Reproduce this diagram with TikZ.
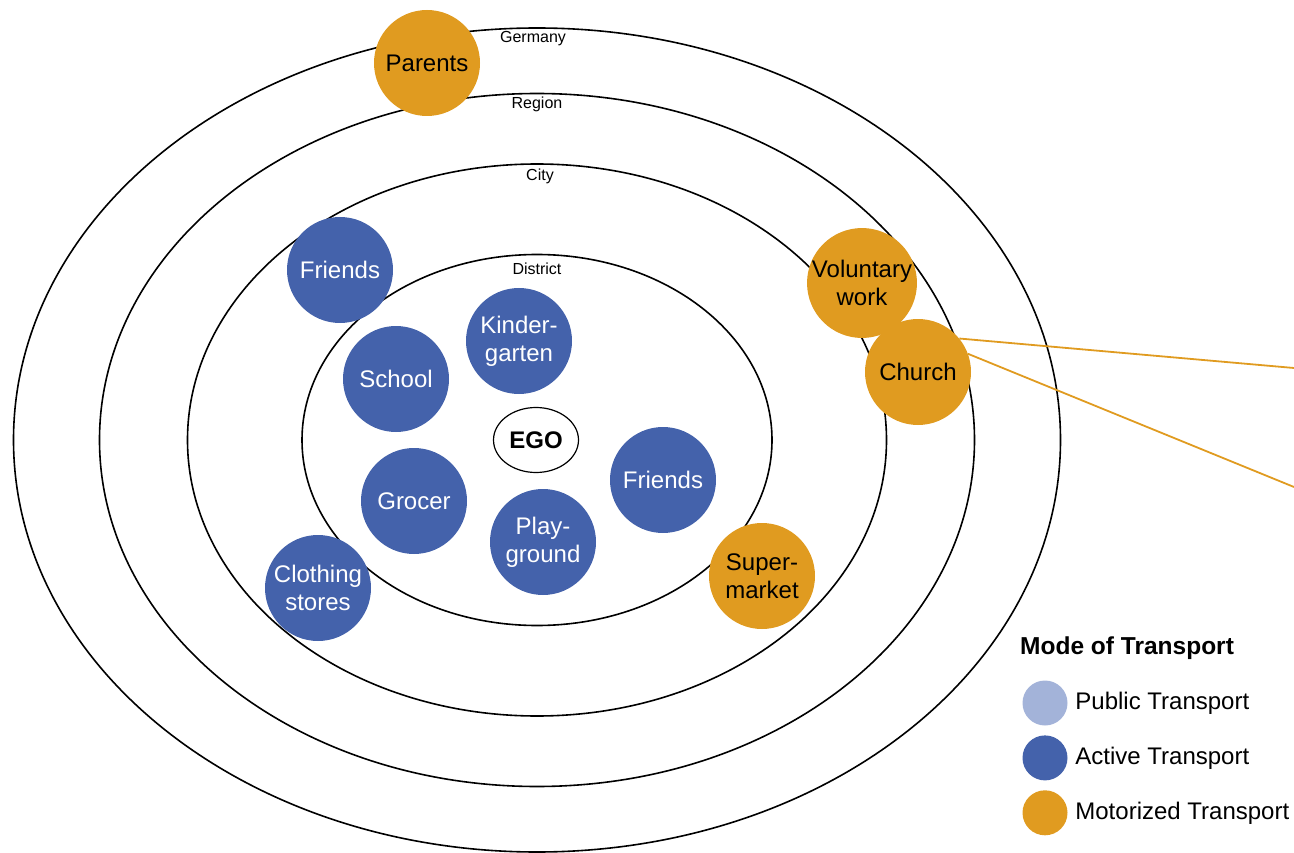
\documentclass[tikz,border=0pt]{standalone}
\usepackage{fontspec}
\setmainfont{Liberation Sans}
\usetikzlibrary{positioning}
\usetikzlibrary{shapes.geometric}
\definecolor{motorized}{HTML}{E09B20}
\definecolor{active}{HTML}{4462AB}
\definecolor{public}{HTML}{A3B3D9}
\tikzset{
    % The rings of distance round the ego
    ring/.style={draw, ellipse, line width=1.6pt, inner sep=0},
%
    % Small name printed just inside the top of each ring
    ring label/.style={anchor=north, inner sep=3pt,
        font=\fontsize{16}{19}\selectfont},
%
    % A place that is visited, as a filled disk
    place/.style={circle, minimum size=106, inner sep=0, align=center,
        font=\fontsize{24}{28}\selectfont},
    active place/.style={place, fill=active, text=white},
    motor place/.style={place, fill=motorized, text=black},
%
    % Thin line leading away from a place
    motor line/.style={draw=motorized, line width=1.8pt},
%
    % Legend entries
    legend dot/.style={circle, minimum size=45, inner sep=0},
    legend text/.style={anchor=west, inner sep=0,
        font=\fontsize{24}{28}\selectfont}}

\begin{document}
\begin{tikzpicture}[x=1pt, y=-1pt]
\useasboundingbox (0,0) rectangle (1294,853);

\node [ring, minimum width=1047, minimum height=824] (germany) at (537,440) {};
\node [ring, minimum width=875, minimum height=693] (region) at (537,440) {};
\node [ring, minimum width=699, minimum height=552] (city) at (537,440) {};
\node [ring, minimum width=470, minimum height=371] (district) at (537,440) {};

\node [ring label, xshift=-4pt, yshift=-1pt] at (germany.north) {Germany};
\node [ring label, yshift=-1pt] at (region.north) {Region};
\node [ring label, xshift=3pt, yshift=-3pt] at (city.north) {City};
\node [ring label, yshift=-6pt] at (district.north) {District};

\node [draw, ellipse, line width=1.2pt, fill=white, minimum width=85,
    minimum height=65, inner sep=0, font=\bfseries\fontsize{24}{28}\selectfont]
    (ego) at (536,440) {EGO};

\node [motor place] (parents) at (427,63) {Parents};

\node [active place] (friends out) at (340,270) {Friends};
\node [active place] (school) at (396,379) {School};
\node [active place] (kindergarten) at (519,341) {Kinder-\\garten};
\node [active place] (grocer) at (414,501) {Grocer};
\node [active place] (playground) at (543,542) {Play-\\ground};
\node [active place] (friends in) at (663,480) {Friends};
\node [active place] (clothing) at (318,588) {Clothing\\stores};

\node [motor place] (supermarket) at (762,576) {Super-\\market};
\node [motor place] (voluntary) at (862,283) {Voluntary\\work};
\node [motor place] (church) at (918,372) {Church};

\coordinate (far upper) at (1294,368);
\coordinate (far lower) at (1294,487);
\draw [motor line] (church.39) -- (far upper);
\draw [motor line] (church.20) -- (far lower);

\node [anchor=west, inner sep=0, font=\bfseries\fontsize{24.5}{28}\selectfont]
    (legend title) at (1020,648) {Mode of Transport};
\node [legend dot, fill=public] (public dot) at (1045,703) {};
\node [legend dot, fill=active, below=9.5pt of public dot] (active dot) {};
\node [legend dot, fill=motorized, below=9.5pt of active dot] (motor dot) {};
\node [legend text, right=7.5pt of public dot] {Public Transport};
\node [legend text, right=7.5pt of active dot] {Active Transport};
\node [legend text, right=7.5pt of motor dot] {Motorized Transport};

\end{tikzpicture}
\end{document}
